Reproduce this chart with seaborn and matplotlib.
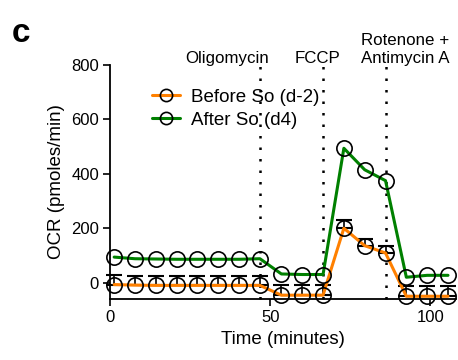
import matplotlib
matplotlib.use("Agg")
import matplotlib.pyplot as plt
import seaborn as sns
import numpy as np
import pandas as pd

time_min = [1.3, 7.8, 14.3, 20.8, 27.3, 33.8, 40.3, 46.8, 53.5, 60.0, 66.5, 73.0, 79.5, 86.0, 92.5, 99.0, 105.5]
before_so = [-7, -9, -10, -10, -10, -10, -10, -10, -46, -46, -46, 200, 136, 109, -50, -50, -50]
before_err = [36, 35, 36, 36, 36, 36, 36, 36, 39, 39, 39, 31, 25, 27, 38, 38, 38]
after_so = [94, 88, 87, 86, 86, 86, 86, 88, 32, 30, 30, 494, 415, 375, 20, 27, 27]
after_err = [5, 5, 5, 5, 5, 5, 5, 5, 5, 5, 5, 8, 8, 8, 5, 5, 5]
series_names = ["Before So (d-2)", "After So (d4)"]
series_colors = ["#FF8000", "#008000"]
injections = [46.8, 66.5, 86.0]
injection_labels = ["Oligomycin", "FCCP", "Rotenone +\nAntimycin A"]
yticks = [0, 200, 400, 600, 800]
xticks = [0, 50, 100]

sns.set_style("ticks")
plt.rcParams['font.family'] = ['Liberation Sans', 'DejaVu Sans']
plt.rcParams['text.color'] = 'black'
plt.rcParams['axes.labelcolor'] = 'black'
plt.rcParams['xtick.color'] = 'black'
plt.rcParams['ytick.color'] = 'black'

df = pd.DataFrame({
    "Time": time_min * 2,
    "OCR": before_so + after_so,
    "err": before_err + after_err,
    "Group": [series_names[0]] * len(time_min) + [series_names[1]] * len(time_min),
})

fig = plt.figure(figsize=(4.58, 3.6), dpi=100)
ax = fig.add_axes([110 / 458, 61 / 360, 346 / 458, 234 / 360])

# error bars (upper half, GraphPad style); bars shorter than the symbol are hidden
for vals, errs in [(before_so, before_err), (after_so, after_err)]:
    t = [ti for ti, e in zip(time_min, errs) if e > 20]
    v = [vi for vi, e in zip(vals, errs) if e > 20]
    e_up = [e for e in errs if e > 20]
    if t:
        ax.errorbar(t, v, yerr=[np.zeros(len(e_up)), e_up], fmt='none',
                    ecolor='black', elinewidth=1.2, capsize=5.5, capthick=1.5,
                    zorder=2, clip_on=False)

sns.lineplot(data=df, x="Time", y="OCR", hue="Group", palette=series_colors,
             hue_order=series_names, marker='o', markersize=11,
             markerfacecolor='none', markeredgecolor='black', markeredgewidth=1.2,
             linewidth=2.2, ax=ax, zorder=3, clip_on=False)
for line in ax.lines:
    line.set_clip_on(False)

# vertical injection lines
for xi in injections:
    ax.vlines(xi, -60, 806, colors='black', linestyles=(0, (1, 3.6)), linewidth=1.8,
              clip_on=False, zorder=1)

ax.text(36.6, 798, injection_labels[0], ha='center', va='bottom', fontsize=12.2)
ax.text(64.7, 798, injection_labels[1], ha='center', va='bottom', fontsize=12.2)
ax.text(92.2, 798, injection_labels[2], ha='center', va='bottom', fontsize=12.2,
        linespacing=1.2)

ax.set_xlim(0, 108)
ax.set_ylim(-60, 800)
ax.set_xticks(xticks)
ax.set_yticks(yticks)
ax.tick_params(axis='both', labelsize=12, length=5, width=1.2, color='black', pad=3)
for s in ['left', 'bottom']:
    ax.spines[s].set_linewidth(1.3)
    ax.spines[s].set_color('black')
sns.despine(ax=ax)
ax.spines['left'].set_bounds(-60, 800)

ax.set_xlabel("Time (minutes)", fontsize=13.5, labelpad=4)
ax.set_ylabel("OCR (pmoles/min)", fontsize=13.5, labelpad=4)

leg = ax.legend(loc='upper left', bbox_to_anchor=(0.1, 0.93), frameon=False,
                fontsize=13.5, handlelength=1.5, handletextpad=0.6, labelspacing=0.3,
                borderaxespad=0, markerscale=0.8)

fig.text(12 / 458, 1 - 42 / 360, "c", fontsize=24, fontweight='bold', ha='left', va='baseline')

fig.savefig("out.png", dpi=100)
